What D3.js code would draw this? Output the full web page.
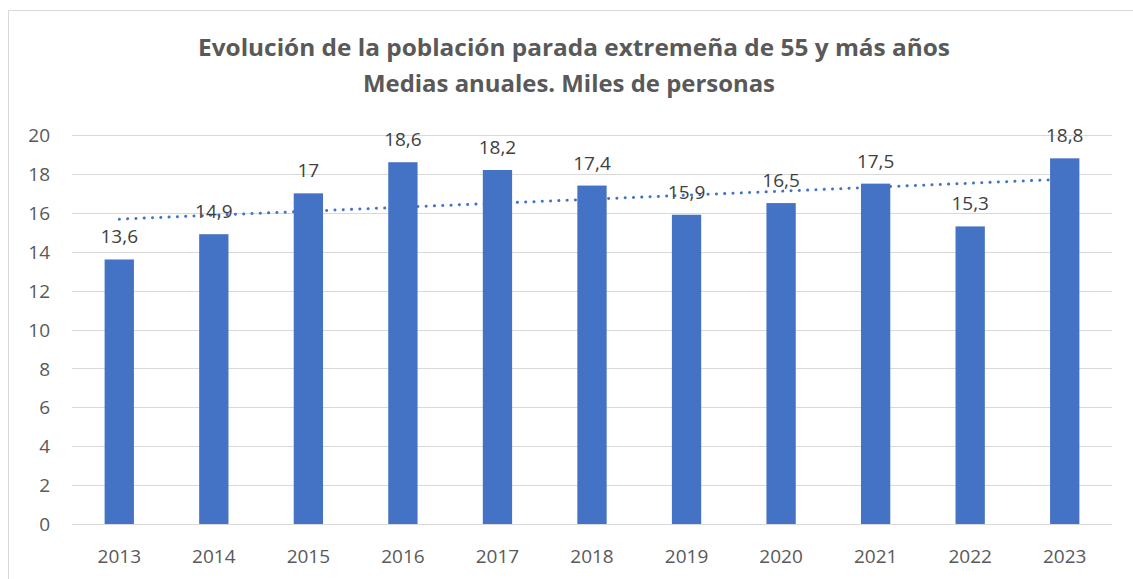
<!DOCTYPE html>
<html><head><meta charset="utf-8">
<script src="https://cdn.jsdelivr.net/npm/d3@7"></script>
<style>body{margin:0;background:#fff}svg{display:block}text{font-family:"Open Sans",sans-serif}</style>
</head><body>
<svg id="c" width="1133" height="579"></svg>
<script>
const years = ["2013","2014","2015","2016","2017","2018","2019","2020","2021","2022","2023"];
const values = [13.6,14.9,17,18.6,18.2,17.4,15.9,16.5,17.5,15.3,18.8];
const yTicks = [0,2,4,6,8,10,12,14,16,18,20];
const titleLines = ["Evolución de la población parada extremeña de 55 y más años","Medias anuales. Miles de personas"];

const svg = d3.select("#c");
// chart border
svg.append("path").attr("d","M8.5,579 V10.5 H1133").attr("fill","none").attr("stroke","#d9d9d9").attr("stroke-width",1);

const x = d3.scaleBand().domain(years).range([72,1112]).paddingInner(0.69).paddingOuter(0.345);
const y = d3.scaleLinear().domain([0,20]).range([524,135]);

// gridlines
svg.append("g").selectAll("line").data(yTicks).join("line")
  .attr("x1",72).attr("x2",1112).attr("y1",d=>Math.round(y(d))+0.5).attr("y2",d=>Math.round(y(d))+0.5)
  .attr("stroke","#d9d9d9").attr("stroke-width",1);

// y axis labels
const yAxis = d3.axisLeft(y).tickValues(yTicks).tickSize(0).tickPadding(0).tickFormat(d3.format("d"));
const ya = svg.append("g").attr("transform","translate(50,0)").call(yAxis);
ya.select(".domain").remove();
ya.selectAll("text").attr("font-size",19).attr("fill","#595959").attr("font-family","Open Sans").attr("dy","0.35em");

// x axis labels
const xAxis = d3.axisBottom(x).tickSize(0).tickPadding(0);
const xa = svg.append("g").attr("transform","translate(0,556)").call(xAxis);
xa.select(".domain").remove();
xa.selectAll("text").attr("font-size",19).attr("fill","#595959").attr("font-family","Open Sans").attr("dy","0.35em");

// bars
svg.append("g").selectAll("rect").data(values).join("rect")
  .attr("x",(d,i)=>x(years[i])).attr("width",x.bandwidth())
  .attr("y",d=>y(d)).attr("height",d=>y(0)-y(d)).attr("fill","#4472C4");

// linear trendline (least squares)
const n = values.length;
const xs = d3.range(1,n+1);
const mx = d3.mean(xs), my = d3.mean(values);
const slope = d3.sum(xs,(v,i)=>(v-mx)*(values[i]-my))/d3.sum(xs,v=>(v-mx)*(v-mx));
const icpt = my - slope*mx;
const cx = i => x(years[i]) + x.bandwidth()/2;
svg.append("line")
  .attr("x1",cx(0)).attr("y1",y(icpt+slope*1))
  .attr("x2",cx(n-1)).attr("y2",y(icpt+slope*n))
  .attr("stroke","#4472C4").attr("stroke-width",3).attr("stroke-linecap","round")
  .attr("stroke-dasharray","0.1 8.2");

// data labels
svg.append("g").selectAll("text").data(values).join("text")
  .attr("x",(d,i)=>cx(i)).attr("y",d=>y(d)-16)
  .attr("text-anchor","middle").attr("font-size",19).attr("fill","#404040")
  .text(d=>String(d).replace(".",","));

// title
svg.append("text").attr("x",574).attr("y",56).attr("text-anchor","middle")
  .attr("font-size",23).attr("font-weight","bold").attr("fill","#595959")
  .attr("textLength",752).attr("lengthAdjust","spacingAndGlyphs").text(titleLines[0]);
svg.append("text").attr("x",569).attr("y",92).attr("text-anchor","middle")
  .attr("font-size",23).attr("font-weight","bold").attr("fill","#595959")
  .attr("textLength",412).attr("lengthAdjust","spacingAndGlyphs").text(titleLines[1]);
</script>
</body></html>
